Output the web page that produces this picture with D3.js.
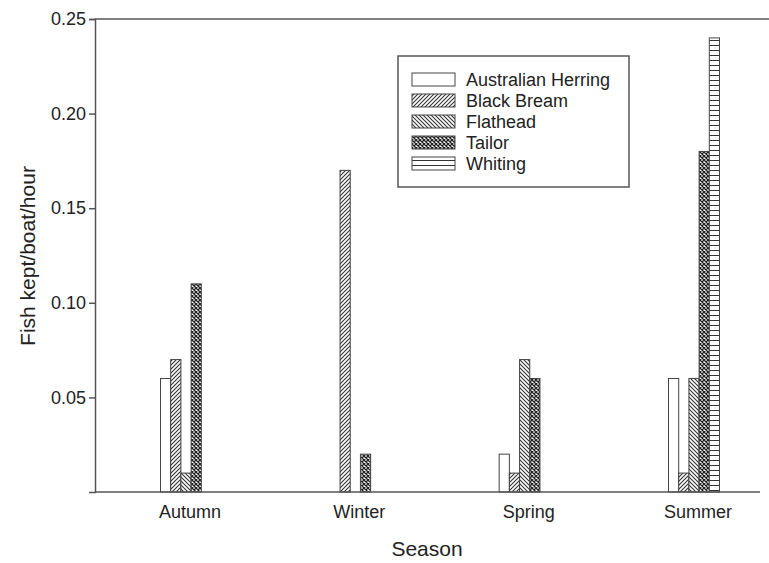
<!DOCTYPE html>
<html>
<head>
<meta charset="utf-8">
<script src="https://cdn.jsdelivr.net/npm/d3@7"></script>
<style>
  body { margin: 0; background: #fff; }
  text { font-family: "Liberation Sans", Arial, sans-serif; fill: #222; }
</style>
</head>
<body>
<div id="chart"></div>
<script>
// data
var seasons = ["Autumn", "Winter", "Spring", "Summer"];
var species = ["Australian Herring", "Black Bream", "Flathead", "Tailor", "Whiting"];
var herring = [0.06, 0, 0.02, 0.06];
var bream   = [0.07, 0.17, 0.01, 0.01];
var flathead = [0.01, 0, 0.07, 0.06];
var tailor  = [0.11, 0.02, 0.06, 0.18];
var whiting = [0, 0, 0, 0.24];
var yTicks = [0.05, 0.10, 0.15, 0.20, 0.25];

var seriesVals = [herring, bream, flathead, tailor, whiting];
var patternIds = ["pHerring", "pBream", "pFlathead", "pTailor", "pWhiting"];

var width = 769, height = 563;
var axisCol = "#555";

var svg = d3.select("#chart").append("svg")
    .attr("width", width)
    .attr("height", height);

// hatch patterns
var defs = svg.append("defs");
function pat(id, size, drawFn) {
  var p = defs.append("pattern").attr("id", id)
    .attr("patternUnits", "userSpaceOnUse")
    .attr("width", size).attr("height", size);
  p.append("rect").attr("width", size).attr("height", size).attr("fill", "#fff");
  drawFn(p, size);
}
pat("pHerring", 4, function(p){});
pat("pBream", 4, function(p, s){
  p.append("path").attr("d", "M-1,1 L1,-1 M0,4 L4,0 M3,5 L5,3")
    .attr("stroke", "#333").attr("stroke-width", 1.1);
});
pat("pFlathead", 4, function(p, s){
  p.append("path").attr("d", "M-1,3 L1,5 M0,0 L4,4 M3,-1 L5,1")
    .attr("stroke", "#333").attr("stroke-width", 1.1);
});
pat("pTailor", 4, function(p, s){
  p.append("path").attr("d", "M0,0 L4,4 M4,0 L0,4")
    .attr("stroke", "#222").attr("stroke-width", 1.3);
});
pat("pWhiting", 5, function(p, s){
  p.append("path").attr("d", "M0,0.5 L5,0.5")
    .attr("stroke", "#333").attr("stroke-width", 1);
});

// scales
var y = d3.scaleLinear().domain([0, 0.25]).range([492, 19]);
var x0 = d3.scalePoint().domain(seasons).range([186, 694]);
var x1 = d3.scaleBand().domain(species).range([-25.5, 25.5]);

// bars
seasons.forEach(function(s, i) {
  species.forEach(function(sp, k) {
    var v = seriesVals[k][i];
    if (v <= 0) return;
    svg.append("rect")
      .attr("x", x0(s) + x1(sp))
      .attr("y", y(v))
      .attr("width", x1.bandwidth())
      .attr("height", y(0) - y(v))
      .attr("fill", "url(#" + patternIds[k] + ")")
      .attr("stroke", "#444")
      .attr("stroke-width", 1);
  });
});

// y axis
var yAxis = svg.append("g")
  .attr("transform", "translate(95,0)")
  .call(d3.axisLeft(y).tickValues(yTicks).tickFormat(d3.format(".2f")).tickSize(6).tickPadding(3));
yAxis.select(".domain").attr("stroke", axisCol).attr("stroke-width", 1.5);
yAxis.selectAll(".tick line").attr("stroke", axisCol).attr("stroke-width", 1.5);
yAxis.selectAll(".tick text").style("font-size", "18px").attr("fill", "#222");

// bottom and top frame lines
svg.append("line").attr("x1", 95).attr("x2", 760).attr("y1", y(0)).attr("y2", y(0))
  .attr("stroke", axisCol).attr("stroke-width", 1.5);
svg.append("line").attr("x1", 95).attr("x2", 769).attr("y1", y(0.25)).attr("y2", y(0.25))
  .attr("stroke", axisCol).attr("stroke-width", 1.5);

// category labels
svg.selectAll(".cat").data(seasons).enter().append("text")
  .attr("x", function(d) { return x0(d) + 4; })
  .attr("y", 518)
  .attr("text-anchor", "middle")
  .style("font-size", "18px")
  .text(function(d) { return d; });

// axis titles
svg.append("text")
  .attr("x", 427).attr("y", 556)
  .attr("text-anchor", "middle")
  .style("font-size", "21px")
  .text("Season");
svg.append("text")
  .attr("transform", "translate(35,256) rotate(-90)")
  .attr("text-anchor", "middle")
  .style("font-size", "21px")
  .text("Fish kept/boat/hour");

// legend
var lg = svg.append("g");
lg.append("rect").attr("x", 398).attr("y", 56).attr("width", 231).attr("height", 131)
  .attr("fill", "#fff").attr("stroke", axisCol).attr("stroke-width", 1.5);
species.forEach(function(sp, k) {
  var yy = 73 + k * 21;
  lg.append("rect").attr("x", 412).attr("y", yy).attr("width", 43).attr("height", 13)
    .attr("fill", "url(#" + patternIds[k] + ")")
    .attr("stroke", "#444").attr("stroke-width", 1);
  lg.append("text").attr("x", 466).attr("y", yy + 13)
    .style("font-size", "18px")
    .text(sp);
});
</script>
</body>
</html>
